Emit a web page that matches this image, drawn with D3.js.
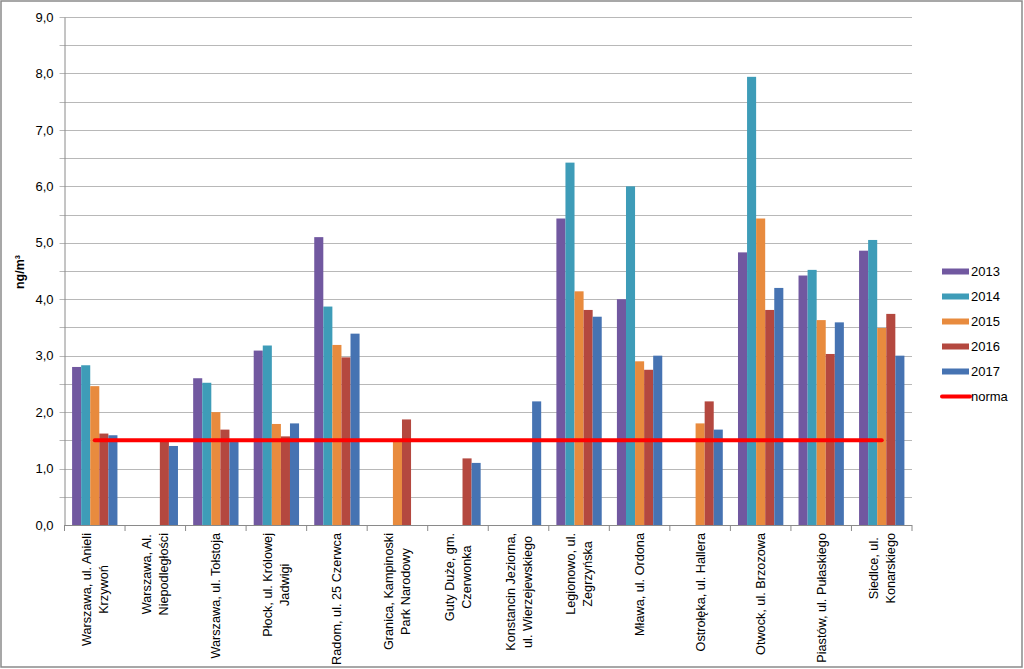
<!DOCTYPE html>
<html>
<head>
<meta charset="utf-8">
<script src="https://cdn.jsdelivr.net/npm/d3@7"></script>
<style>
  html, body { margin: 0; padding: 0; background: #fff; }
  svg { display: block; font-family: "Liberation Sans", Arial, sans-serif; }
</style>
</head>
<body>
<svg id="chart" width="1024" height="669"></svg>
<script>
const categories = [
  "Warszawa, ul. Anieli Krzywoń", "Warszawa, Al. Niepodległości", "Warszawa, ul. Tołstoja",
  "Płock, ul. Królowej Jadwigi", "Radom, ul. 25 Czerwca", "Granica, Kampinoski Park Narodowy",
  "Guty Duże, gm. Czerwonka", "Konstancin Jeziorna, ul. Wierzejewskiego", "Legionowo, ul. Zegrzyńska",
  "Mława, ul. Ordona", "Ostrołęka, ul. Hallera", "Otwock, ul. Brzozowa",
  "Piastów, ul. Pułaskiego", "Siedlce, ul. Konarskiego"
];
const labelLines = [
  ["Warszawa, ul. Anieli", "Krzywoń"], ["Warszawa, Al.", "Niepodległości"], ["Warszawa, ul. Tołstoja"],
  ["Płock, ul. Królowej", "Jadwigi"], ["Radom, ul. 25 Czerwca"], ["Granica, Kampinoski", "Park Narodowy"],
  ["Guty Duże, gm.", "Czerwonka"], ["Konstancin Jeziorna,", "ul. Wierzejewskiego"], ["Legionowo, ul.", "Zegrzyńska"],
  ["Mława, ul. Ordona"], ["Ostrołęka, ul. Hallera"], ["Otwock, ul. Brzozowa"],
  ["Piastów, ul. Pułaskiego"], ["Siedlce, ul.", "Konarskiego"]
];
const years = ["2013", "2014", "2015", "2016", "2017"];
const v2013 = [2.80, null, 2.60, 3.09, 5.10, null, null, null, 5.43, 4.00, null, 4.83, 4.42, 4.86];
const v2014 = [2.83, null, 2.52, 3.18, 3.87, null, null, null, 6.42, 6.00, null, 7.94, 4.52, 5.05];
const v2015 = [2.46, null, 2.00, 1.79, 3.19, 1.50, null, null, 4.14, 2.90, 1.80, 5.43, 3.63, 3.49];
const v2016 = [1.62, 1.48, 1.69, 1.57, 2.97, 1.87, 1.18, null, 3.81, 2.75, 2.19, 3.81, 3.03, 3.74];
const v2017 = [1.59, 1.40, 1.47, 1.80, 3.39, null, 1.10, 2.19, 3.69, 3.00, 1.69, 4.20, 3.59, 3.00];
const norma = [1.5, 1.5, 1.5, 1.5, 1.5, 1.5, 1.5, 1.5, 1.5, 1.5, 1.5, 1.5, 1.5, 1.5];
const yTicks = [0, 1, 2, 3, 4, 5, 6, 7, 8, 9];
const yGrid = [0.5, 1, 1.5, 2, 2.5, 3, 3.5, 4, 4.5, 5, 5.5, 6, 6.5, 7, 7.5, 8, 8.5, 9];
const seriesValues = [v2013, v2014, v2015, v2016, v2017];
const colors = ["#7158A0", "#3E9CB8", "#E88B3E", "#B4483F", "#4673B2"];
const normaColor = "#FF0000";

const svg = d3.select("#chart");
const L = 64.5, R = 912, T = 17, B = 525;

svg.append("rect").attr("x", 1).attr("y", 1).attr("width", 1021).attr("height", 666)
  .attr("fill", "#fff").attr("stroke", "#8a8a8a").attr("stroke-width", 1.5);

const y = d3.scaleLinear().domain([0, 9]).range([B, T]);
const x0 = d3.scaleBand().domain(categories).range([L, R]).paddingInner(0.251).paddingOuter(0.1255);
const x1 = d3.scaleBand().domain(years).range([0, x0.bandwidth()]).padding(0);
const xc = d3.scalePoint().domain(categories).range([L, R]).padding(0.5);

// gridlines
svg.append("g").selectAll("line").data(yGrid).join("line")
  .attr("x1", L - 5).attr("x2", R)
  .attr("y1", d => Math.round(y(d)) + 0.5).attr("y2", d => Math.round(y(d)) + 0.5)
  .attr("stroke", "#b8b8b8").attr("stroke-width", 1);

// y axis
const yAxis = d3.axisLeft(y).tickValues(yTicks).tickSize(0).tickPadding(11)
  .tickFormat(d => d3.format(".1f")(d).replace(".", ","));
const gy = svg.append("g").attr("transform", `translate(${L},0)`).call(yAxis);
gy.select(".domain").attr("stroke", "#8a8a8a");
gy.selectAll("text").attr("font-size", 13).attr("fill", "#000")
  .attr("font-family", "Liberation Sans, Arial, sans-serif");

// bars
const gBars = svg.append("g");
years.forEach((yr, si) => {
  const vals = seriesValues[si];
  gBars.append("g").selectAll("rect")
    .data(categories.map((c, i) => ({ c, v: vals[i] })).filter(d => d.v !== null))
    .join("rect")
    .attr("x", d => x0(d.c) + x1(yr))
    .attr("width", x1.bandwidth())
    .attr("y", d => y(d.v))
    .attr("height", d => B - y(d.v))
    .attr("fill", colors[si]);
});

// x axis
const xAxisScale = d3.scaleLinear().domain([0, categories.length]).range([L, R]);
const gx = svg.append("g").attr("transform", `translate(0,${B})`);
gx.append("line").attr("x1", L).attr("x2", R).attr("y1", 0.5).attr("y2", 0.5).attr("stroke", "#8a8a8a");
gx.selectAll("line.tick").data(d3.range(categories.length + 1)).join("line")
  .attr("class", "tick")
  .attr("x1", d => xAxisScale(d)).attr("x2", d => xAxisScale(d))
  .attr("y1", 0).attr("y2", 6).attr("stroke", "#8a8a8a");

// category labels
const lineH = 17;
categories.forEach((c, i) => {
  const lines = labelLines[i];
  const g = svg.append("g");
  const texts = lines.map((t, li) => g.append("text").text(t)
    .attr("font-size", 12.7).attr("fill", "#000").attr("text-anchor", "middle"));
  const maxLen = d3.max(texts, t => t.node().getComputedTextLength());
  const cx = xc(c);
  const cy = 533 + maxLen / 2;
  const n = lines.length;
  texts.forEach((t, li) => {
    const off = (li - (n - 1) / 2) * lineH + 4.5;
    t.attr("transform", `translate(${cx + off},${cy}) rotate(-90)`);
  });
});

// norma line
const line = d3.line().x((d, i) => xc(categories[i])).y(d => y(d));
svg.append("path").datum(norma).attr("d", line)
  .attr("fill", "none").attr("stroke", normaColor).attr("stroke-width", 4).attr("stroke-linecap", "round");

// y title
svg.append("text").text("ng/m³")
  .attr("transform", `translate(24,272) rotate(-90)`)
  .attr("text-anchor", "middle").attr("font-size", 12.5).attr("font-weight", "bold").attr("fill", "#000");

// legend
const legendNames = years.concat(["norma"]);
const lg = svg.append("g");
legendNames.forEach((name, i) => {
  const cyL = 271.5 + i * 25;
  if (i < 5) {
    lg.append("rect").attr("x", 942).attr("y", cyL - 3).attr("width", 27).attr("height", 6).attr("fill", colors[i]);
  } else {
    lg.append("line").attr("x1", 942).attr("x2", 970).attr("y1", cyL).attr("y2", cyL)
      .attr("stroke", normaColor).attr("stroke-width", 4).attr("stroke-linecap", "round");
  }
  lg.append("text").text(name).attr("x", 971).attr("y", cyL + 4.5)
    .attr("font-size", 13).attr("fill", "#000");
});
</script>
</body>
</html>
